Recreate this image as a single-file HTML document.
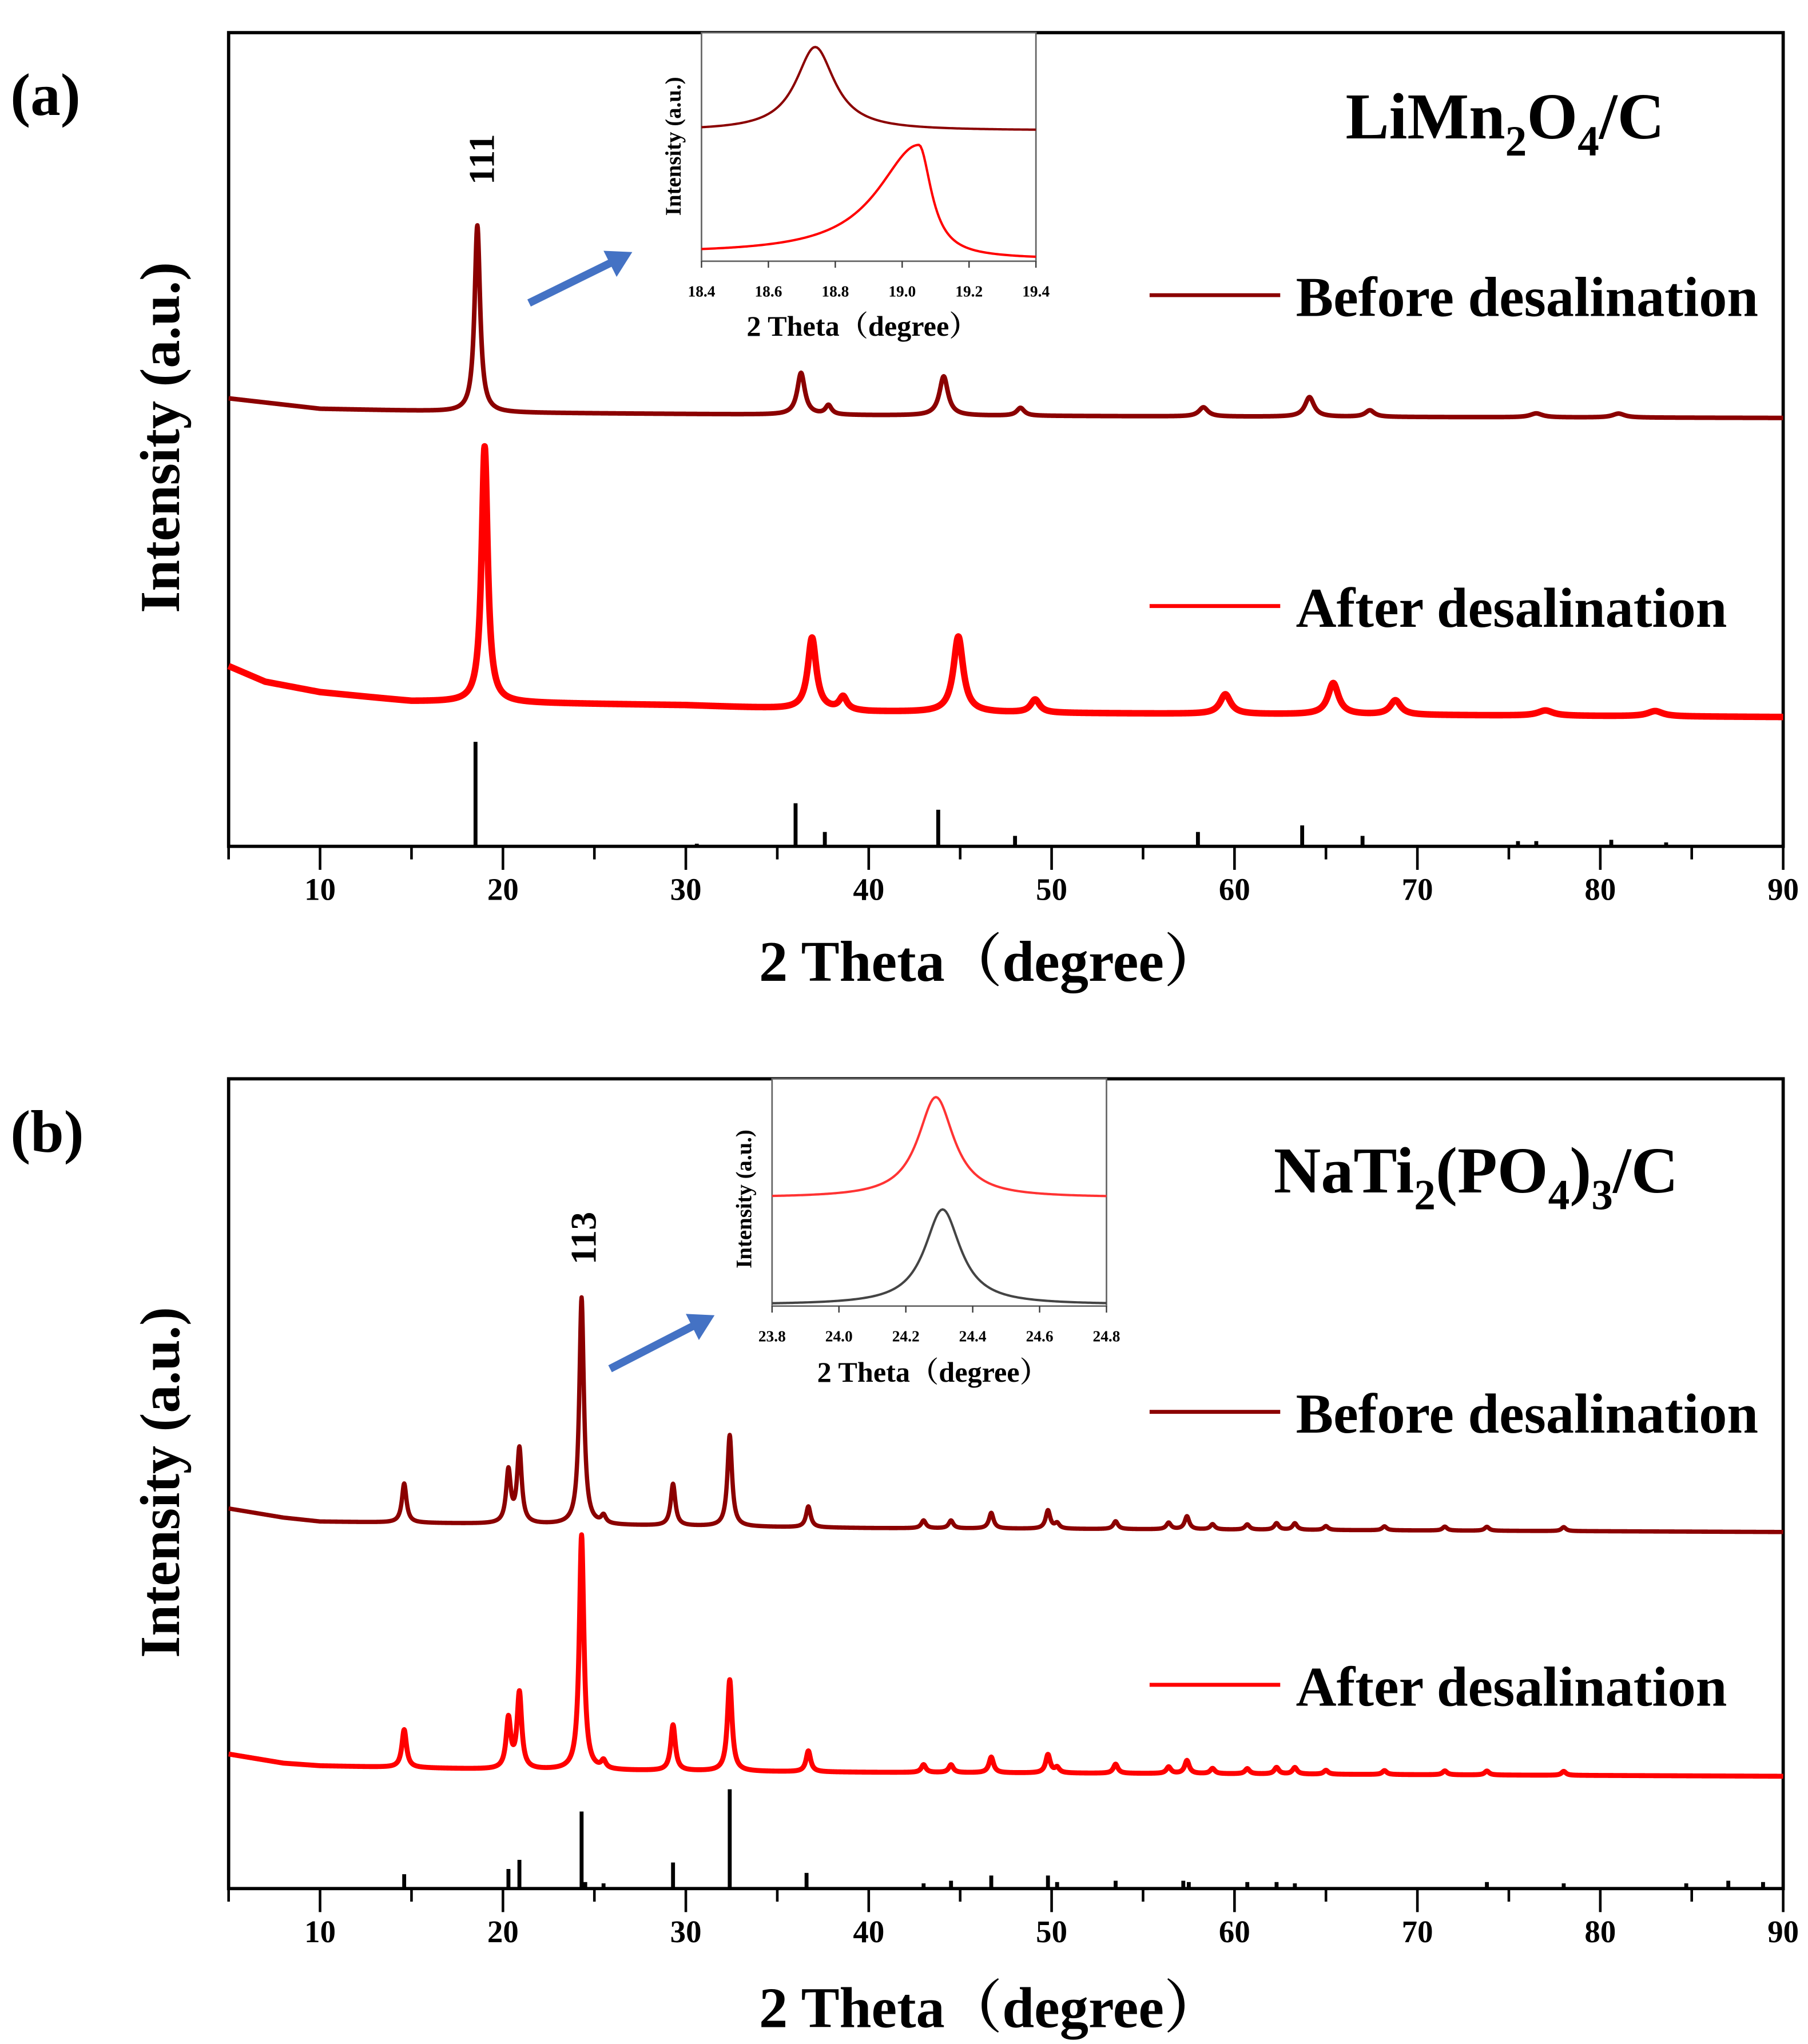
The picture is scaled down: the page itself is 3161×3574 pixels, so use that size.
<!DOCTYPE html>
<html><head><meta charset="utf-8"><style>
html,body{margin:0;padding:0;background:#fff}
svg{display:block}
text{font-family:"Liberation Serif","Noto Serif CJK SC",serif;font-weight:bold}
</style></head><body>
<svg id="fig" width="3161" height="3574" viewBox="0 0 1384 1565" preserveAspectRatio="none" xmlns="http://www.w3.org/2000/svg">
<rect width="1384" height="1565" fill="#fff"/>
<text x="8" y="88" font-size="46">(a)</text>
<text x="1030" y="106" font-size="50">LiMn<tspan font-size="33" dy="13">2</tspan><tspan dy="-13">O</tspan><tspan font-size="33" dy="13">4</tspan><tspan dy="-13">/C</tspan></text>
<text transform="translate(378,122) rotate(-90)" text-anchor="middle" font-size="28">111</text>
<text transform="translate(137,335) rotate(-90)" text-anchor="middle" font-size="43">Intensity (a.u.)</text>
<text x="758" y="751" text-anchor="middle" font-size="44">2 Theta（degree）</text>
<line x1="880" y1="226" x2="980" y2="226" stroke="#8b0000" stroke-width="3"/>
<text x="992" y="242" font-size="43">Before desalination</text>
<line x1="880" y1="464" x2="980" y2="464" stroke="#ff0000" stroke-width="3"/>
<text x="992" y="480" font-size="43">After desalination</text>
<text x="8" y="882" font-size="46">(b)</text>
<text x="975" y="913" font-size="50">NaTi<tspan font-size="33" dy="13">2</tspan><tspan dy="-13">(PO</tspan><tspan font-size="33" dy="13">4</tspan><tspan dy="-13">)</tspan><tspan font-size="33" dy="13">3</tspan><tspan dy="-13">/C</tspan></text>
<text transform="translate(456,948) rotate(-90)" text-anchor="middle" font-size="28">113</text>
<text transform="translate(137,1135) rotate(-90)" text-anchor="middle" font-size="43">Intensity (a.u.)</text>
<text x="758" y="1552" text-anchor="middle" font-size="44">2 Theta（degree）</text>
<line x1="880" y1="1081" x2="980" y2="1081" stroke="#8b0000" stroke-width="3"/>
<text x="992" y="1097" font-size="43">Before desalination</text>
<line x1="880" y1="1290" x2="980" y2="1290" stroke="#ff0000" stroke-width="3"/>
<text x="992" y="1306" font-size="43">After desalination</text>
<g><line x1="405" y1="232" x2="470" y2="200" stroke="#4472c4" stroke-width="6"/><polygon points="484,193 462,192 472,212" fill="#4472c4"/></g>
<g><line x1="467" y1="1048" x2="533" y2="1014" stroke="#4472c4" stroke-width="6"/><polygon points="547,1007 525,1006 535,1026" fill="#4472c4"/></g>
<text x="660" y="257" text-anchor="middle" font-size="22">2 Theta（degree）</text>
<text transform="translate(521,112) rotate(-90)" text-anchor="middle" font-size="17">Intensity (a.u.)</text>
<text x="714" y="1058" text-anchor="middle" font-size="22">2 Theta（degree）</text>
<text transform="translate(575,918) rotate(-90)" text-anchor="middle" font-size="17">Intensity (a.u.)</text>
<g id="dyn"></g>
</svg>
<script>
const aBeforeBaseX = [5, 10, 20, 40, 60, 90];
const aBeforeBaseY = [343, 335, 332, 330, 329, 328];
const aBeforePeakPos = [18.6, 36.3, 37.8, 44.1, 48.3, 58.3, 64.1, 67.4, 76.5, 81.0];
const aBeforePeakAmp = [143, 32, 7, 30, 6, 7, 15, 5, 3, 3];
const aBeforePeakW = [0.18, 0.25, 0.2, 0.28, 0.25, 0.3, 0.3, 0.3, 0.4, 0.4];
const aAfterBaseX = [5, 7, 10, 15, 20, 30, 40, 50, 90];
const aAfterBaseY = [138, 126, 118, 111, 110, 108, 103, 102, 99];
const aAfterPeakPos = [19.0, 36.9, 38.6, 44.9, 49.1, 59.5, 65.4, 68.8, 77.0, 83.0];
const aAfterPeakAmp = [196, 55, 10, 58, 10, 15, 24, 11, 4, 4];
const aAfterPeakW = [0.2, 0.28, 0.25, 0.32, 0.3, 0.35, 0.35, 0.35, 0.5, 0.5];
const aRefPos = [18.5, 30.6, 36.0, 37.6, 43.8, 48.0, 58.0, 63.7, 67.0, 75.5, 76.5, 80.6, 83.6];
const aRefInt = [80, 2, 33, 11, 28, 8, 11, 16, 8, 4, 4, 5, 3];
const iaBeforeBase = [100, 100];
const iaBeforePeak = [18.74, 64, 0.07, 0.07];
const iaAfterBase = [5, 2];
const iaAfterPeak = [19.05, 86, 0.15, 0.045];
const bBeforeBaseX = [5, 8, 10, 20, 40, 90];
const bBeforeBaseY = [291, 284, 281, 279, 276, 273];
const bPeakPos = [14.6, 20.3, 20.9, 24.3, 25.5, 29.3, 32.4, 36.7, 43.0, 44.5, 46.7, 49.8, 50.3, 53.5, 56.4, 57.4, 58.8, 60.7, 62.3, 63.3, 65.0, 68.2, 71.5, 73.8, 78.0];
const bBeforePeakAmp = [30, 40, 57, 174, 6, 32, 70, 16, 6, 6, 12, 14, 4, 6, 5, 10, 4, 4, 5, 5, 3, 3, 3, 3, 3];
const bAfterBaseX = [5, 8, 10, 20, 40, 90];
const bAfterBaseY = [103, 96, 94, 91, 89, 86];
const bAfterPeakAmp = [29, 38, 58, 180, 6, 35, 70, 16, 6, 6, 12, 14, 4, 7, 5, 10, 4, 4, 5, 5, 3, 3, 3, 3, 3];
const bRefPos = [14.6, 20.3, 20.9, 24.3, 24.5, 25.5, 29.3, 32.4, 36.6, 43.0, 44.5, 46.7, 49.8, 50.3, 53.5, 57.2, 57.5, 60.7, 62.3, 63.3, 73.8, 78.0, 84.7, 87.0, 88.9];
const bRefInt = [11, 15, 22, 59, 5, 4, 20, 76, 12, 4, 6, 10, 10, 5, 6, 6, 5, 5, 5, 4, 5, 4, 4, 6, 5];
const ibRedBase = [83, 83];
const ibRedPeak = [24.29, 77, 0.065, 0.065];
const ibBlackBase = [1, 1];
const ibBlackPeak = [24.31, 73, 0.065, 0.065];
const mainTicks = [10, 20, 30, 40, 50, 60, 70, 80, 90];
const insetATicks = ["18.4", "18.6", "18.8", "19.0", "19.2", "19.4"];
const insetBTicks = ["23.8", "24.0", "24.2", "24.4", "24.6", "24.8"];

const NS = "http://www.w3.org/2000/svg";
const dyn = document.getElementById("dyn");
function el(tag, attrs, parent) {
  const e = document.createElementNS(NS, tag);
  for (const k in attrs) e.setAttribute(k, attrs[k]);
  (parent || dyn).appendChild(e);
  return e;
}
const xMain = v => 175 + (v - 5) * 14;
function interp(xs, ys, x) {
  if (x <= xs[0]) return ys[0];
  for (let i = 1; i < xs.length; i++) if (x <= xs[i]) {
    const t = (x - xs[i - 1]) / (xs[i] - xs[i - 1]); return ys[i - 1] + t * (ys[i] - ys[i - 1]);
  }
  return ys[ys.length - 1];
}
function pattern(bx, by, pos, amp, w, x) {
  let v = interp(bx, by, x);
  for (let i = 0; i < pos.length; i++) { const d = (x - pos[i]) / w[i]; v += amp[i] / (1 + d * d); }
  return v;
}
function mainCurve(name, color, sw, yf, bx, by, pos, amp, w) {
  let d = "";
  for (let x = 5; x <= 90.0001; x += 0.02) d += (d ? "L" : "M") + xMain(x).toFixed(2) + "," + yf(pattern(bx, by, pos, amp, w, x)).toFixed(2);
  const p = el("path", { d: d, fill: "none", stroke: color, "stroke-width": sw, "stroke-linejoin": "round" });
  
  
}
function refSticks(name, yf, pos, inten) {
  const g = el("g", {});
  
  
  pos.forEach((p, i) => {
    const l = el("line", { x1: xMain(p), x2: xMain(p), y1: yf(0), y2: yf(inten[i]), stroke: "#000", "stroke-width": 3 }, g);
    
    
  });
}
function mainAxes(prefix, top, bottom) {
  const box = el("rect", { x: 175, y: top, width: 1190, height: bottom - top, fill: "none", stroke: "#000", "stroke-width": 2.5 });
  
  
  const g = el("g", {});
  
  
  el("line", { x1: 175, x2: 175, y1: bottom, y2: bottom + 10, stroke: "#000", "stroke-width": 2 }, g);
  for (let v = 15; v <= 85; v += 10) el("line", { x1: xMain(v), x2: xMain(v), y1: bottom, y2: bottom + 10, stroke: "#000", "stroke-width": 2 }, g);
  mainTicks.forEach(v => {
    el("line", { x1: xMain(v), x2: xMain(v), y1: bottom, y2: bottom + 18, stroke: "#000", "stroke-width": 2 }, g);
    const t = el("text", { x: xMain(v), y: bottom + 41, "text-anchor": "middle", "font-size": 24 }, g);
    t.textContent = v;
    
    
  });
}
function inset(prefix, x0, top, bottom, lo, ticks, curves) {
  const xs = v => x0 + (v - lo) * 256;
  const g = el("g", {});
  
  
  el("rect", { x: x0, y: top, width: 256, height: bottom - top, fill: "#fff", stroke: "#666", "stroke-width": 1.2 }, g);
  ticks.forEach(s => {
    const v = parseFloat(s);
    el("line", { x1: xs(v), x2: xs(v), y1: bottom, y2: bottom + 5, stroke: "#333", "stroke-width": 1 }, g);
    const t = el("text", { x: xs(v), y: bottom + 27, "text-anchor": "middle", "font-size": 12 }, g);
    t.textContent = s;
    
    
  });
  curves.forEach(c => {
    let d = "";
    for (let x = lo; x <= lo + 1.0001; x += 0.005) {
      const b = c.base[0] + (c.base[1] - c.base[0]) * (x - lo);
      const w = x < c.peak[0] ? c.peak[2] : c.peak[3];
      const dd = (x - c.peak[0]) / w;
      const v = b + c.peak[1] / (1 + dd * dd);
      d += (d ? "L" : "M") + xs(x).toFixed(2) + "," + (bottom - v).toFixed(2);
    }
    const p = el("path", { d: d, fill: "none", stroke: c.color, "stroke-width": 1.8 }, g);
    
    
  });
}
const yA = v => 648 - v;
mainAxes("panel-a", 25, 648);
mainCurve("series-a-after", "#ff0000", 5, yA, aAfterBaseX, aAfterBaseY, aAfterPeakPos, aAfterPeakAmp, aAfterPeakW);
mainCurve("series-a-before", "#8b0000", 3.5, yA, aBeforeBaseX, aBeforeBaseY, aBeforePeakPos, aBeforePeakAmp, aBeforePeakW);
refSticks("reference-pattern-a", yA, aRefPos, aRefInt);
inset("inset-a", 537, 25, 200, 18.4, insetATicks, [
  { name: "inset-a-before", color: "#8b0000", base: iaBeforeBase, peak: iaBeforePeak },
  { name: "inset-a-after", color: "#ff0000", base: iaAfterBase, peak: iaAfterPeak }]);
const yB = v => 1446 - v;
const bW = bPeakPos.map(() => 0.15);
mainAxes("panel-b", 826, 1446);
mainCurve("series-b-after", "#ff0000", 3.8, yB, bAfterBaseX, bAfterBaseY, bPeakPos, bAfterPeakAmp, bW);
mainCurve("series-b-before", "#8b0000", 3.3, yB, bBeforeBaseX, bBeforeBaseY, bPeakPos, bBeforePeakAmp, bW);
refSticks("reference-pattern-b", yB, bRefPos, bRefInt);
inset("inset-b", 591, 826, 1000, 23.8, insetBTicks, [
  { name: "inset-b-after", color: "#ff3333", base: ibRedBase, peak: ibRedPeak },
  { name: "inset-b-before", color: "#444", base: ibBlackBase, peak: ibBlackPeak }]);
</script>
</body></html>
